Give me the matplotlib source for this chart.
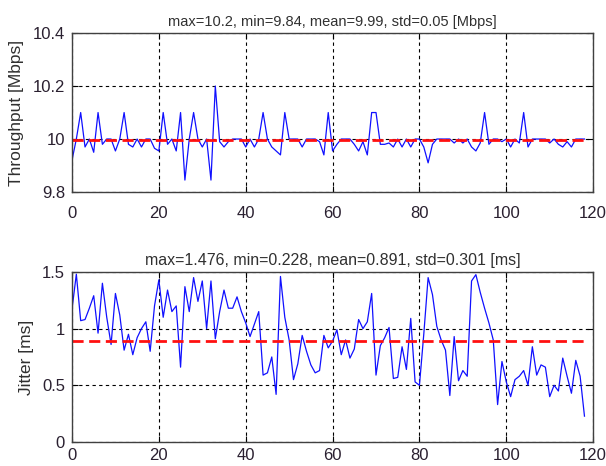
import numpy as np
import matplotlib
matplotlib.use("Agg")
import matplotlib.pyplot as plt

plt.rcParams["font.family"] = ["Liberation Sans", "DejaVu Sans"]

# %%
# Samples (one per second)
t = np.arange(119)

throughput = [
    9.92, 10.0, 10.1, 9.97, 10.0, 9.95, 10.1, 9.98, 10.0, 10.0,
    9.955, 10.0, 10.1, 9.98, 9.97, 10.0, 9.97, 10.0, 10.0, 9.965,
    9.955, 10.1, 9.98, 10.0, 9.955, 10.1, 9.845, 10.0, 10.1, 10.0,
    9.97, 10.0, 9.845, 10.2, 9.99, 9.97, 9.99, 10.0, 10.0, 10.0,
    9.97, 10.0, 9.97, 10.0, 10.1, 10.0, 9.97, 9.955, 9.94, 10.1,
    10.0, 10.0, 10.0, 9.97, 10.0, 10.0, 10.0, 9.99, 9.94, 10.1,
    9.955, 9.98, 10.0, 10.0, 10.0, 9.98, 9.955, 9.99, 9.94, 10.1,
    10.1, 9.98, 9.98, 9.985, 9.97, 10.0, 9.97, 10.0, 9.97, 10.0,
    10.0, 9.97, 9.91, 9.98, 10.0, 10.0, 10.0, 10.0, 9.985, 10.0,
    9.985, 10.0, 9.97, 9.955, 9.985, 10.1, 9.98, 10.0, 10.0, 9.99,
    10.0, 9.97, 10.0, 9.985, 10.1, 9.97, 10.0, 10.0, 10.0, 10.0,
    9.985, 10.0, 9.98, 9.97, 9.99, 9.97, 10.0, 10.0, 10.0,
]

jitter = [
    1.17, 1.48, 1.07, 1.08, 1.18, 1.29, 0.96, 1.40, 1.10, 0.86,
    1.31, 1.12, 0.81, 0.95, 0.77, 0.92, 1.00, 1.06, 0.80, 1.20,
    1.43, 1.10, 1.34, 1.15, 1.20, 0.66, 1.37, 1.15, 1.45, 1.24,
    1.42, 1.00, 1.42, 0.91, 1.15, 1.34, 1.18, 1.18, 1.28, 1.15,
    1.05, 0.93, 1.04, 1.15, 0.59, 0.61, 0.75, 0.42, 1.46, 1.10,
    0.90, 0.55, 0.69, 0.94, 0.80, 0.68, 0.61, 0.63, 0.94, 0.83,
    0.89, 0.99, 0.77, 0.90, 0.74, 0.82, 1.08, 1.00, 1.06, 1.31,
    0.59, 0.85, 0.92, 1.01, 0.56, 0.57, 0.84, 0.64, 1.09, 0.53,
    0.50, 0.95, 1.45, 1.30, 1.02, 0.90, 0.81, 0.41, 0.93, 0.54,
    0.63, 0.58, 1.42, 1.476, 1.32, 1.18, 1.05, 0.90, 0.33, 0.71,
    0.53, 0.40, 0.55, 0.58, 0.63, 0.50, 0.84, 0.59, 0.68, 0.66,
    0.40, 0.50, 0.45, 0.74, 0.58, 0.43, 0.72, 0.58, 0.228,
]

thr_title = "max=10.2, min=9.84, mean=9.99, std=0.05 [Mbps]"
jit_title = "max=1.476, min=0.228, mean=0.891, std=0.301 [ms]"
jit_mean = 0.891

x_ticks = [0, 20, 40, 60, 80, 100, 120]
thr_ticks = [9.8, 10.0, 10.2, 10.4]
thr_ticklabels = ["9.8", "10", "10.2", "10.4"]
jit_ticks = [0, 0.5, 1.0, 1.5]
jit_ticklabels = ["0", "0.5", "1", "1.5"]

# %%
fig = plt.figure(figsize=(6.06, 4.66), dpi=100)
ax1 = fig.add_axes([0.1188, 0.588, 0.860, 0.341])
ax2 = fig.add_axes([0.1188, 0.0515, 0.860, 0.365])

tick_color = "#2a2030"
grid_style = dict(color="black", linestyle=(0, (3, 3)), linewidth=0.8)


def style(ax, yticks, yticklabels, ylim, ylabel, title, title_size, xpad):
    ax.set_xlim(0, 120)
    ax.set_ylim(*ylim)
    ax.set_xticks(x_ticks)
    ax.set_yticks(yticks)
    ax.set_yticklabels(yticklabels)
    ax.grid(True, **grid_style)
    ax.set_axisbelow(True)
    ax.tick_params(direction="in", labelsize=12, labelcolor=tick_color,
                   length=4, top=True, right=True, pad=5)
    ax.tick_params(axis="x", pad=xpad)
    ax.set_ylabel(ylabel, fontsize=12.5, color="#303030", labelpad=6)
    ax.set_title(title, fontsize=title_size, color="#303030", pad=5)
    for sp in ax.spines.values():
        sp.set_linewidth(1.0)
        sp.set_color("#404040")


ax1.plot(t, throughput, color="#1010ff", linewidth=0.9)
ax1.plot([t[0], t[-1]], [np.mean(throughput)] * 2, color="#ff1010",
         linestyle=(0, (4, 2)), linewidth=2)
style(ax1, thr_ticks, thr_ticklabels, (9.8, 10.4), "Throughput [Mbps]",
      thr_title, 10.5, 10)

ax2.plot(t, jitter, color="#1010ff", linewidth=0.9)
ax2.plot([t[0], t[-1]], [jit_mean] * 2, color="#ff1010",
         linestyle=(0, (4, 2)), linewidth=2)
style(ax2, jit_ticks, jit_ticklabels, (0, 1.5), "Jitter [ms]",
      jit_title, 11.5, 4)

fig.savefig("out.png", dpi=100)
